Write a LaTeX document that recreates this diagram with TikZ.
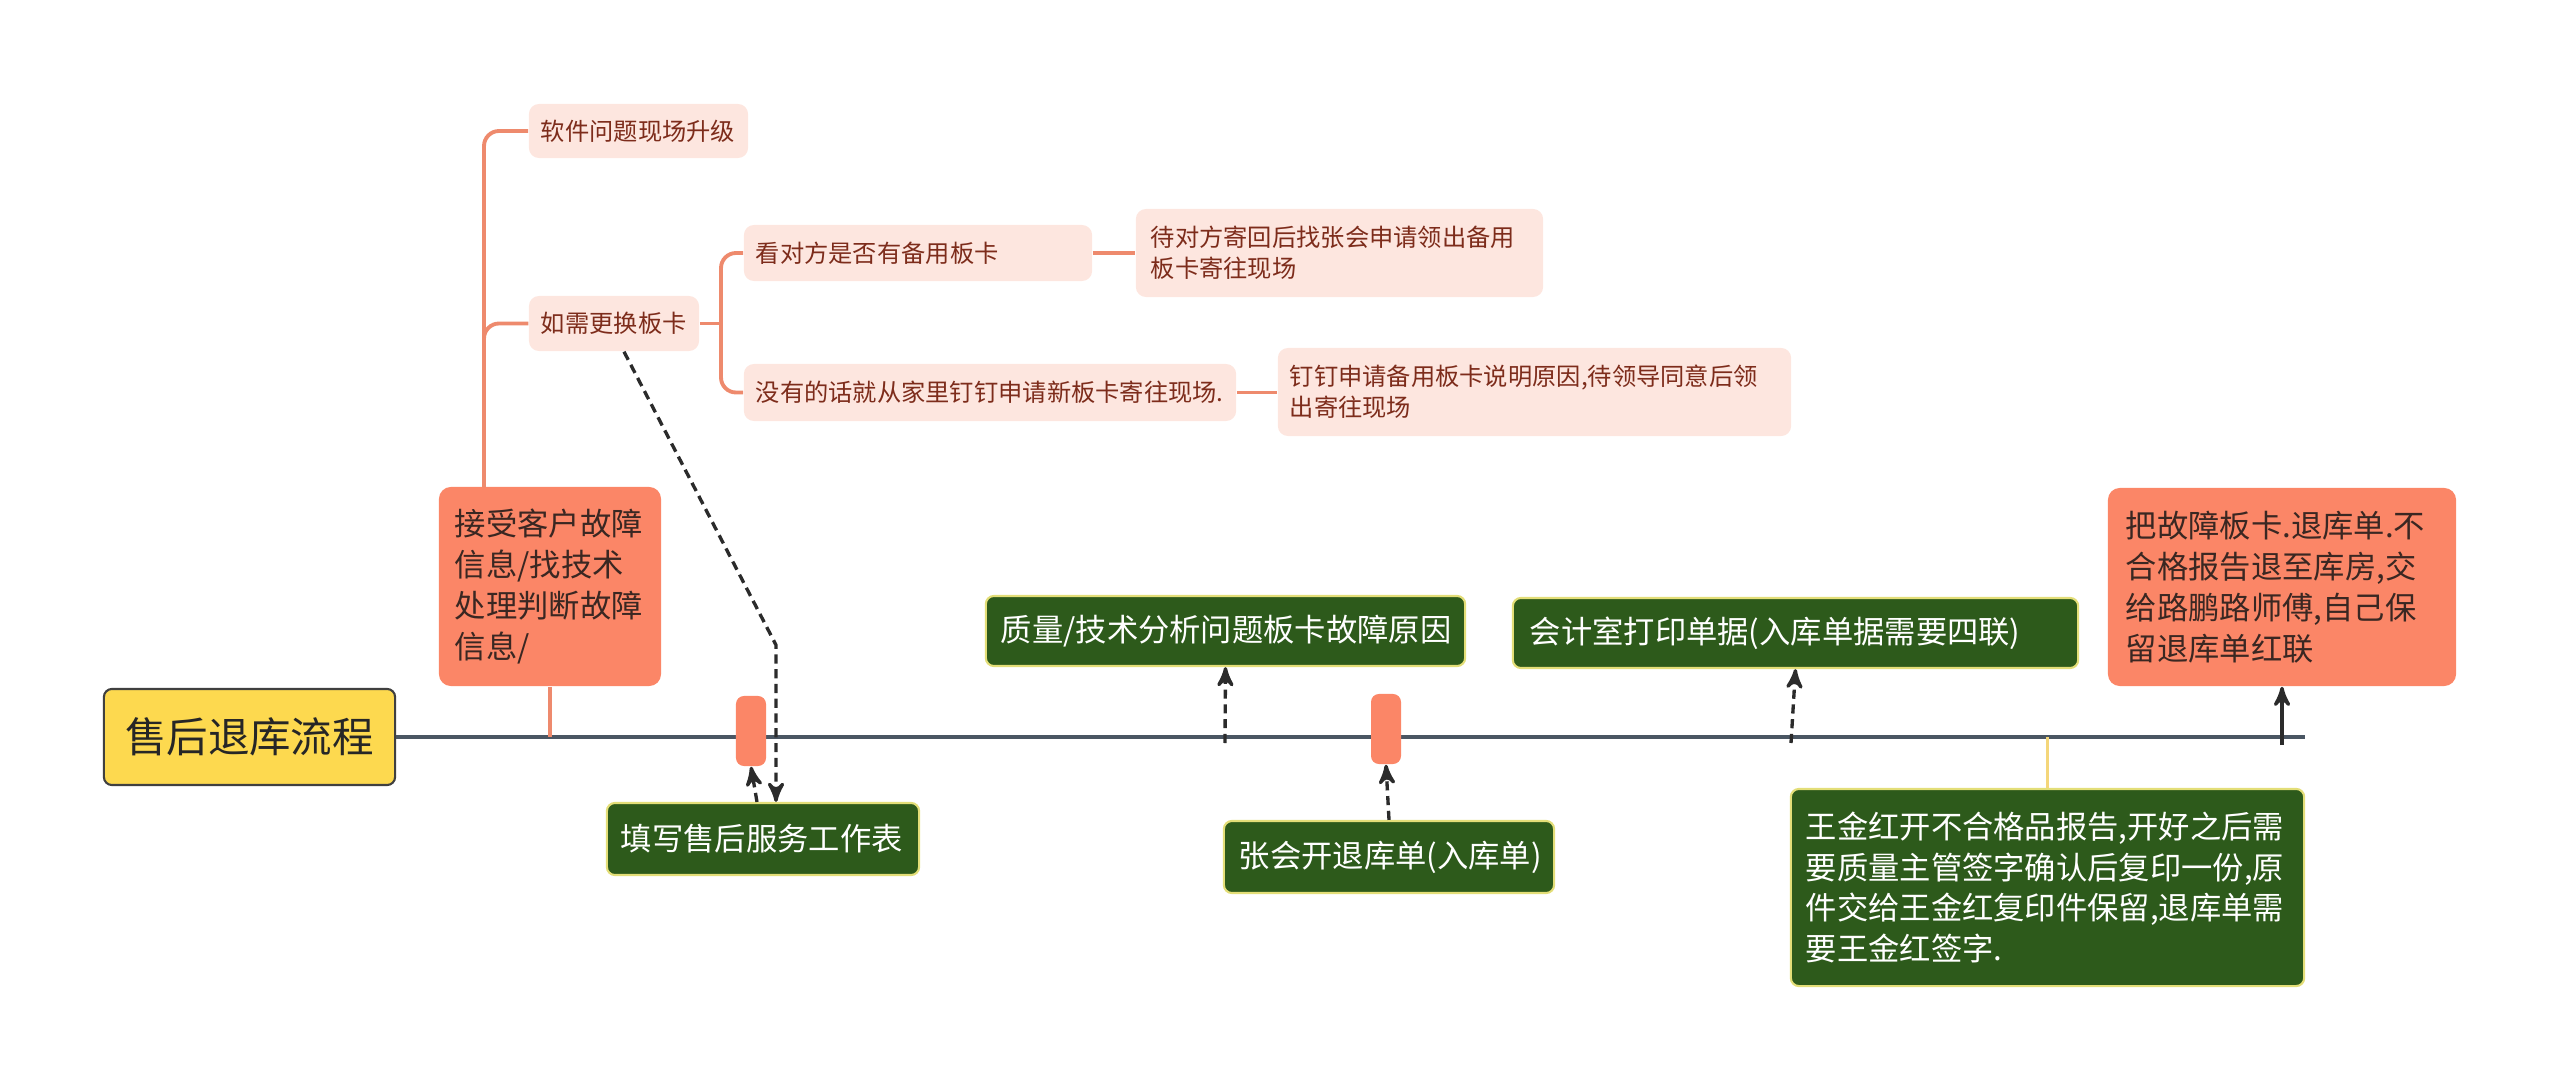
\documentclass[tikz,border=0pt]{standalone}
\usepackage{fontspec}
\setmainfont{Noto Sans CJK SC}
\usepackage{tikz}
\usetikzlibrary{arrows}

\definecolor{rootyellow}{HTML}{FDD94F}
\definecolor{salmon}{HTML}{FB8667}
\definecolor{pinkbg}{HTML}{FDE6DF}
\definecolor{branch}{HTML}{EE8A6D}
\definecolor{pinktext}{HTML}{7D2C1B}
\definecolor{darktext}{HTML}{3A2722}
\definecolor{leafgreen}{HTML}{2D5A1B}
\definecolor{greenedge}{HTML}{E3DE78}
\definecolor{axiscol}{HTML}{4A5663}
\definecolor{ylinecol}{HTML}{F4D67A}
\definecolor{dashcol}{HTML}{2B2B2B}

\begin{document}
\begin{tikzpicture}[x=0.01cm,y=-0.01cm,>=stealth',
        rootnode/.style={draw=black!75,line width=0.6pt,fill=rootyellow,rounded corners=0.08cm,
          minimum width=2.91cm,minimum height=0.96cm,inner sep=0pt,
          font=\fontsize{11.8}{14}\selectfont,text=black!85},
        pinknode/.style={fill=pinkbg,rounded corners=0.1cm,text=pinktext,align=left,
          inner xsep=0.12cm,inner ysep=0pt,font=\fontsize{6.9}{8.8}\selectfont},
        salmonnode/.style={fill=salmon,rounded corners=0.12cm,text=darktext,align=left,
          inner ysep=0pt,font=\fontsize{8.9}{11.6}\selectfont},
        greennode/.style={draw=greenedge,line width=0.6pt,fill=leafgreen,rounded corners=0.08cm,
          text=white,align=left,inner ysep=0pt,font=\fontsize{8.9}{11.6}\selectfont},
        marker/.style={fill=salmon,rounded corners=0.08cm,minimum width=0.3cm,
          minimum height=0.7cm,inner sep=0pt},
        axisline/.style={axiscol,line width=1.4pt},
        treeline/.style={branch,line width=1.1pt,rounded corners=0.15cm},
        dashline/.style={->,dashcol,line width=0.95pt,dash pattern=on 2.6pt off 1.6pt},
        solidline/.style={->,dashcol,line width=0.95pt},
        yline/.style={ylinecol,line width=1.1pt}]

  \useasboundingbox (0,0) rectangle (2560,1091);

  \node[rootnode] (root) at (249.5,737) {售后退库流程};
  \coordinate (axisend) at (2305,737);
  \draw[axisline] (root.east) -- (axisend);

  \node[marker] (mark1) at (751,731) {};
  \node[marker] (mark2) at (1386,729) {};

  \node[salmonnode,inner xsep=0.16cm,text width=1.90cm,minimum height=1.99cm] (recv) at (550,586.5)
    {接受客户故障\\信息/找技术\\处理判断故障\\信息/};
  \node[salmonnode,inner xsep=0.18cm,text width=3.12cm,minimum height=1.98cm] (ret) at (2282,587)
    {把故障板卡.退库单.不\\合格报告退至库房,交\\给路鹏路师傅,自己保\\留退库单红联};

  \node[pinknode,text width=1.95cm,minimum height=0.54cm] (sw) at (638.5,131) {软件问题现场升级};
  \node[pinknode,text width=1.46cm,minimum height=0.55cm] (swap) at (614,323.5) {如需更换板卡};
  \node[pinknode,text width=3.24cm,minimum height=0.56cm] (ask) at (918,253) {看对方是否有备用板卡};
  \node[pinknode,text width=4.68cm,minimum height=0.57cm] (newcard) at (990,392.5)
    {没有的话就从家里钉钉申请新板卡寄往现场.};
  \node[pinknode,inner xsep=0.15cm,text width=3.77cm,minimum height=0.88cm] (waitback) at (1339.5,253)
    {待对方寄回后找张会申请领出备用\\板卡寄往现场};
  \node[pinknode,text width=4.89cm,minimum height=0.88cm] (apply) at (1534.5,392)
    {钉钉申请备用板卡说明原因,待领导同意后领\\出寄往现场};

  \node[greennode,inner xsep=0.15cm,text width=4.49cm,minimum height=0.70cm] (quality) at (1225.5,631)
    {质量/技术分析问题板卡故障原因};
  \node[greennode,inner xsep=0.17cm,text width=5.31cm,minimum height=0.70cm] (acct) at (1795.5,633)
    {会计室打印单据(入库单据需要四联)};
  \node[greennode,inner xsep=0.14cm,text width=2.84cm,minimum height=0.72cm] (fill) at (763,839)
    {填写售后服务工作表};
  \node[greennode,inner xsep=0.15cm,text width=3.00cm,minimum height=0.72cm] (zhang) at (1389,857)
    {张会开退库单(入库单)};
  \node[greennode,inner xsep=0.15cm,text width=4.83cm,minimum height=1.97cm] (wang) at (2047.5,887.5)
    {王金红开不合格品报告,开好之后需\\要质量主管签字确认后复印一份,原\\件交给王金红复印件保留,退库单需\\要王金红签字.};

  \coordinate (trunk) at (484,487);
  \coordinate (fork) at (721,323.5);
  \draw[treeline] (recv.south) -- (recv.south |- root);
  \draw[treeline] (trunk) |- (sw.west);
  \draw[treeline] (trunk) |- (swap.west);
  \draw[treeline] (swap.east) -- (fork);
  \draw[treeline] (ask.west) -| (fork) |- (newcard.west);
  \draw[treeline] (ask.east) -- (waitback.west |- ask.east);
  \draw[treeline] (newcard.east) -- (apply.west |- newcard.east);

  \coordinate (bend) at (776,645);
  \coordinate (tick3) at (1225,743);
  \coordinate (tick5) at (1791,743);
  \coordinate (tick6) at (2282,745);
  \draw[dashline] ([xshift=0.1cm]swap.south) -- (bend) -- (fill.north -| bend);
  \draw[dashline] ([xshift=-0.06cm]fill.north) -- (mark1.south);
  \draw[dashline] (tick3) -- (quality.south);
  \draw[dashline] (zhang.north) -- (mark2.south);
  \draw[dashline] (tick5) -- (acct.south);
  \draw[solidline] (tick6) -- (ret.south);
  \draw[yline] (wang.north |- root) -- (wang.north);

\end{tikzpicture}
\end{document}
